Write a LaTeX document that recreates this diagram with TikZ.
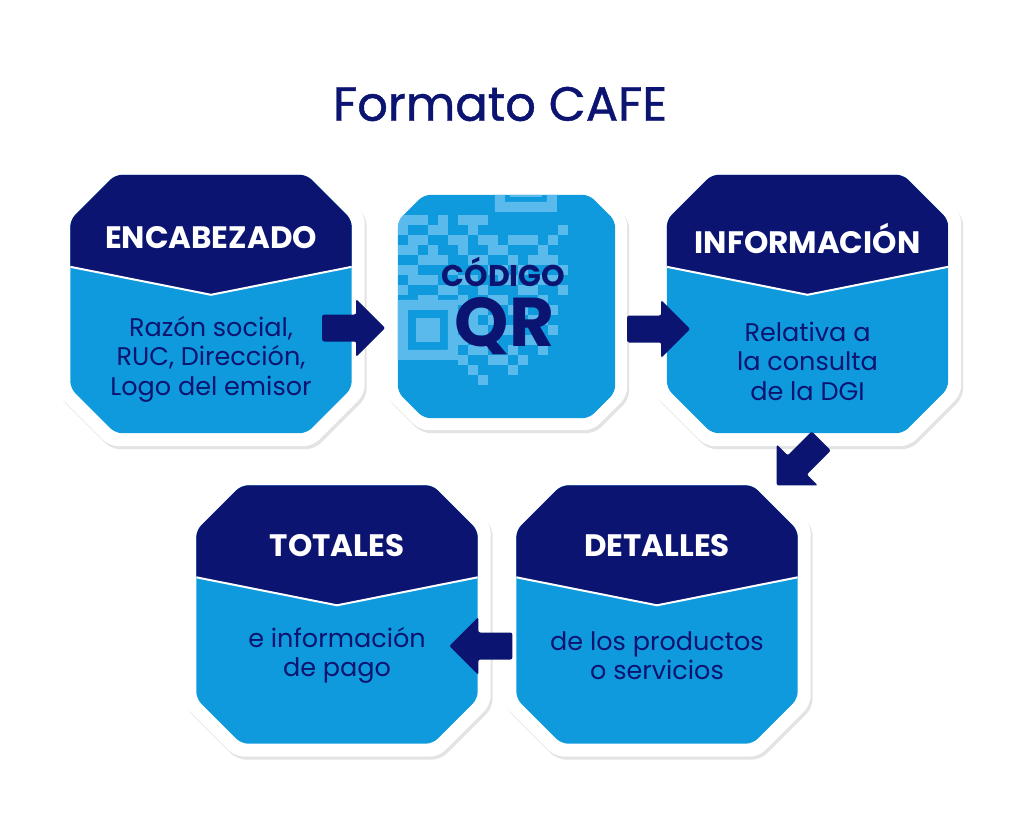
\documentclass[tikz,border=0pt]{standalone}
\usepackage{fontspec}
\setmainfont{Poppins}
\newfontfamily\titlefont[FakeBold=0.9]{Poppins}
\usetikzlibrary{calc,shadows}

\definecolor{cafenavy}{HTML}{0B1470}
\definecolor{cafeblue}{HTML}{0F9ADD}
\definecolor{qrlight}{HTML}{5BBAEC}

% octagon round a named box node, #2 = chamfer
\newcommand{\octpath}[2]{($(#1.north west)+(#2,0)$) -- ($(#1.north east)+(-#2,0)$)
  -- ($(#1.north east)+(0,#2)$) -- ($(#1.south east)+(0,-#2)$)
  -- ($(#1.south east)+(-#2,0)$) -- ($(#1.south west)+(#2,0)$)
  -- ($(#1.south west)+(0,-#2)$) -- ($(#1.north west)+(0,#2)$) -- cycle}

\begin{document}
\begin{tikzpicture}[x=1pt, y=-1pt,
    box/.style={rectangle, inner sep=0pt, minimum width=#1},
    card/.style={fill=white, rounded corners=9pt,
      drop shadow={opacity=0.22, shadow xshift=2pt, shadow yshift=-3pt}},
    face/.style={fill=cafeblue, rounded corners=7pt},
    header/.style={path picture={
        \fill[cafenavy, sharp corners] (path picture bounding box.north west)
          -- ($(path picture bounding box.north west)+(0,92)$)
          -- ($(path picture bounding box.north)+(0,120)$)
          -- ($(path picture bounding box.north east)+(0,92)$)
          -- (path picture bounding box.north east) -- cycle;
        \draw[white, line width=2pt, sharp corners] ($(path picture bounding box.north west)+(0,92)$)
          -- ($(path picture bounding box.north)+(0,120)$)
          -- ($(path picture bounding box.north east)+(0,92)$);
      }},
    headtext/.style={text=white, font=\bfseries\fontsize{31}{36}\selectfont},
    bodytext/.style={text=cafenavy, align=center, font=\fontsize{25.5}{29.5}\selectfont},
    blockarrow/.style={fill=cafenavy, rounded corners=2pt}]

  % page
  \fill[white] (0,0) rectangle (1024,819);
  \useasboundingbox (0,0) rectangle (1024,819);

  % title
  \node[text=cafenavy, font=\titlefont\fontsize{48}{54}\selectfont] (title) at (500,104) {Formato CAFE};

  % box nodes (outer card and inner face)
  \node[box=307pt, minimum height=284pt] (enc-bg) at (211,304) {};
  \node[box=281pt, minimum height=258pt] (enc) at (enc-bg.center) {};
  \node[box=241pt, minimum height=247pt] (qr-bg) at (506.5,306.5) {};
  \node[box=217pt, minimum height=223pt] (qr) at (qr-bg.center) {};
  \node[box=307pt, minimum height=284pt] (info-bg) at (807.5,304) {};
  \node[box=281pt, minimum height=258pt] (info) at (info-bg.center) {};
  \node[box=307pt, minimum height=284pt] (det-bg) at (657,614.5) {};
  \node[box=281pt, minimum height=258pt] (det) at (det-bg.center) {};
  \node[box=307pt, minimum height=284pt] (tot-bg) at (337,614.5) {};
  \node[box=281pt, minimum height=258pt] (tot) at (tot-bg.center) {};

  % cards
  \foreach \n in {enc,info,det,tot}{
    \fill[card] \octpath{\n-bg}{52};
    \fill[face, header] \octpath{\n}{45};
  }
  \fill[card] \octpath{qr-bg}{34};
  \fill[face] \octpath{qr}{26};

  % qr pattern
  \begin{scope}
    \clip[rounded corners=7pt] \octpath{qr}{26};
    \begin{scope}[shift={(qr.north west)}]
      \fill[qrlight, even odd rule] (0,105) rectangle (60,165) (10,115) rectangle (50,155);
      \fill[qrlight] (18,123) rectangle (42,147);
      \fill[qrlight, even odd rule] (97,-45) rectangle (159,17) (107,-35) rectangle (149,7);
      \fill[qrlight] (112,-30) rectangle (144,2);
      \foreach \r/\cols in {0/{0,1,2,4,6,7,8},1/{0,3,4,7,16},2/{1,2,5,6,8,9,11,12,13,15},
          3/{0,1,3,6,9,10,14},4/{2,3,4,7,8,11,13,14,15},5/{0,1,5,9,10,12,16},
          6/{1,2,3,6,7,10,11,14,15},7/{0,4,5,8,12,13,16},8/{2,3,6,9,10,14},
          9/{7,8,11,12,15},10/{6,7,9,13,14},11/{7,8,10,11,15},12/{6,9,12,13},
          13/{7,8,11,14},14/{6,9,10,12},15/{7,11},16/{8}}
        \foreach \c in \cols
          \fill[qrlight] (\c*10,\r*10+20) rectangle ++(10,10);
    \end{scope}
  \end{scope}

  % texts
  \node[headtext] (enc-head) at ($(enc.center)+(0,-66)$) {ENCABEZADO};
  \node[bodytext] (enc-body) at ($(enc.center)+(0,55)$) {Razón social,\\RUC, Dirección,\\Logo del emisor};

  \node[text=cafenavy, font=\bfseries\fontsize{30}{34}\selectfont] (qr-head) at ($(qr.center)+(-3,-35)$) {CÓDIGO};
  \node[text=cafenavy, font=\bfseries\fontsize{69}{76}\selectfont] (qr-big) at ($(qr.center)+(-2,20)$) {QR};

  \node[headtext] (info-head) at ($(info.center)+(0,-66)$) {INFORMACIÓN};
  \node[bodytext] (info-body) at ($(info.center)+(0,57)$) {Relativa a\\la consulta\\de la DGI};

  \node[headtext] (det-head) at ($(det.center)+(0,-69)$) {DETALLES};
  \node[bodytext] (det-body) at ($(det.center)+(0,41)$) {de los productos\\o servicios};

  \node[headtext] (tot-head) at ($(tot.center)+(0,-69)$) {TOTALES};
  \node[bodytext] (tot-body) at ($(tot.center)+(0,41)$) {e información\\de pago};

  % arrows
  \coordinate (a1) at ($(enc.east)+(2,24)$);
  \coordinate (a2) at ($(qr.east)+(43.5,22.5)$);
  \coordinate (a3) at ($(info.south)+(-8.5,30)$);
  \coordinate (a4) at ($(det.west)+(-35.5,31.5)$);
  \foreach \p/\a in {a1/0, a2/0, a3/225, a4/180}
    \fill[blockarrow, shift={(\p)}, rotate=\a] (-31.5,-13.5) -- (2.5,-13.5) -- (2.5,-29)
      -- (31.5,0) -- (2.5,29) -- (2.5,13.5) -- (-31.5,13.5) -- cycle;
\end{tikzpicture}
\end{document}
